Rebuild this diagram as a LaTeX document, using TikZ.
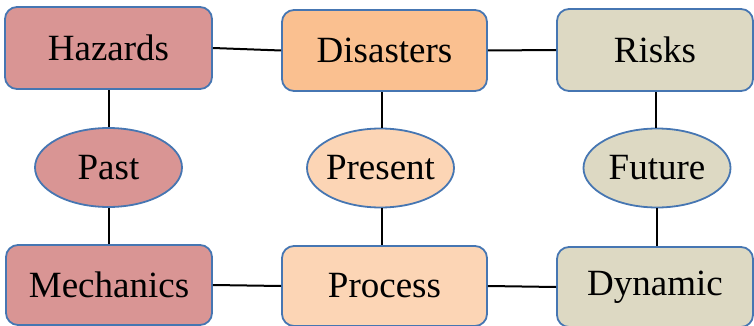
\documentclass[tikz,border=0pt]{standalone}
\usepackage{fontspec}
\setmainfont{Liberation Serif}
\usetikzlibrary{shapes.geometric}
\definecolor{redf}{RGB}{217,149,148}
\definecolor{orgf}{RGB}{250,192,144}
\definecolor{peachf}{RGB}{252,213,181}
\definecolor{tanf}{RGB}{221,217,195}
\definecolor{bord}{RGB}{70,118,178}
\tikzset{
  box/.style={draw=bord, line width=1.8pt, rounded corners=12pt, inner sep=0pt, font=\fontsize{37}{40}\selectfont},
  oval/.style={ellipse, draw=bord, line width=1.8pt, inner sep=0pt, minimum width=147pt, minimum height=79pt, font=\fontsize{37}{40}\selectfont},
  link/.style={line width=2pt, black}
}
\newcommand{\zw}[1]{\makebox[0pt]{#1}}
\begin{document}
\begin{tikzpicture}[x=1pt,y=-1pt]
\useasboundingbox (0,0) rectangle (754,326);
\node[box, fill=redf, minimum width=207pt, minimum height=82pt] (haz) at (108.5,48) {Hazards};
\node[box, fill=orgf, minimum width=205pt, minimum height=81pt] (dis) at (384.5,50.5) {Disasters};
\node[box, fill=tanf, minimum width=196pt, minimum height=82pt] (risk) at (655,50) {Risks};
\node[oval, fill=redf] (past) at (108.5,167.5) {\zw{Past}};
\node[oval, fill=peachf] (pres) at (380.5,168) {\zw{Present}};
\node[oval, fill=tanf] (fut) at (657,168) {\zw{Future}};
\node[box, fill=redf, minimum width=206pt, minimum height=80pt] (mech) at (109,285) {Mechanics};
\node[box, fill=peachf, minimum width=205pt, minimum height=80pt] (proc) at (384.5,286) {Process};
\node[box, fill=tanf, minimum width=196pt, minimum height=80pt] (dyn) at (655,287) {Dynamic};
\draw[link] (haz.east) -- (dis.west);
\draw[link] (dis.east) -- (risk.west);
\draw[link] (mech.east) -- (proc.west);
\draw[link] (proc.east) -- (dyn.west);
\draw[link] (past.north) -- (past.north |- haz.south);
\draw[link] (past.south) -- (past.south |- mech.north);
\draw[link] (pres.north) ++(1.5,0) coordinate (pn) -- (pn |- dis.south);
\draw[link] (pres.south) ++(1,0) coordinate (ps) -- (ps |- proc.north);
\draw[link] (fut.north) ++(-1,0) coordinate (fn) -- (fn |- risk.south);
\draw[link] (fut.south) -- (fut.south |- dyn.north);
\end{tikzpicture}
\end{document}
